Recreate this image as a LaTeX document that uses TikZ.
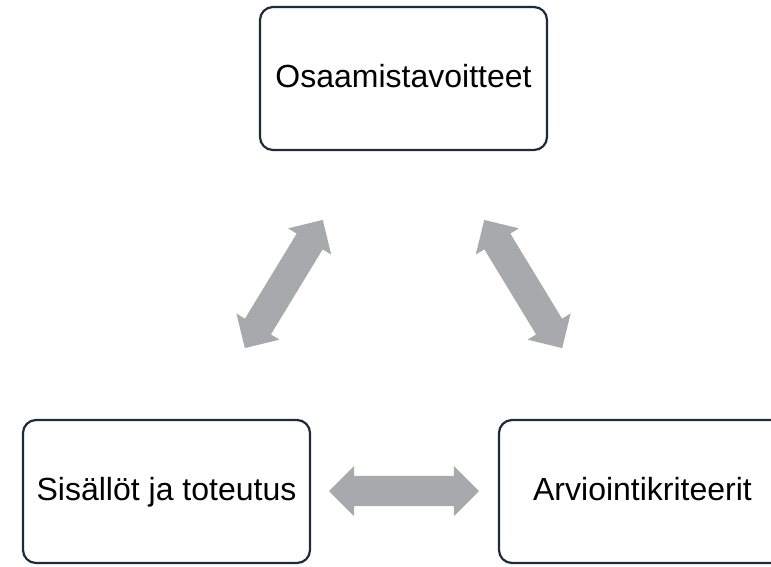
\documentclass[tikz,border=0pt]{standalone}
\usepackage{fontspec}
\setmainfont{Liberation Sans}
\usetikzlibrary{shapes.arrows}
\definecolor{boxline}{HTML}{1F2A3A}
\definecolor{arrowgray}{HTML}{A7A9AC}
\tikzset{
  box/.style={draw=boxline, line width=2.2pt, rounded corners=13pt, fill=white,
    minimum width=287pt, minimum height=143pt, inner sep=0pt,
    text height=18pt, text depth=0pt, font=\fontsize{32}{38}\selectfont},
  blockarrow/.style={shape=double arrow, fill=arrowgray, draw=none,
    inner xsep=0pt, inner ysep=15pt, text height=0pt, text depth=0pt,
    minimum height=150pt, minimum width=50pt, double arrow head extend=10pt,
    double arrow tip angle=90, double arrow head indent=0pt}
}
\begin{document}
\begin{tikzpicture}[x=1pt,y=-1pt]
\clip (0,0) rectangle (771,566);
\fill[white] (0,0) rectangle (771,566);
\node[box] (top) at (403.5,78.5) {Osaamistavoitteet};
\node[box] (left) at (166.5,491.5) {Sisällöt ja toteutus};
\node[box] (right) at (642.5,491.5) {Arviointikriteerit};
\node[blockarrow, rotate=58.7] (aleft) at (283.8,284) {};
\node[blockarrow, rotate=-58.7] (aright) at (523.2,284) {};
\node[blockarrow] (abottom) at (404,491) {};
\end{tikzpicture}
\end{document}
